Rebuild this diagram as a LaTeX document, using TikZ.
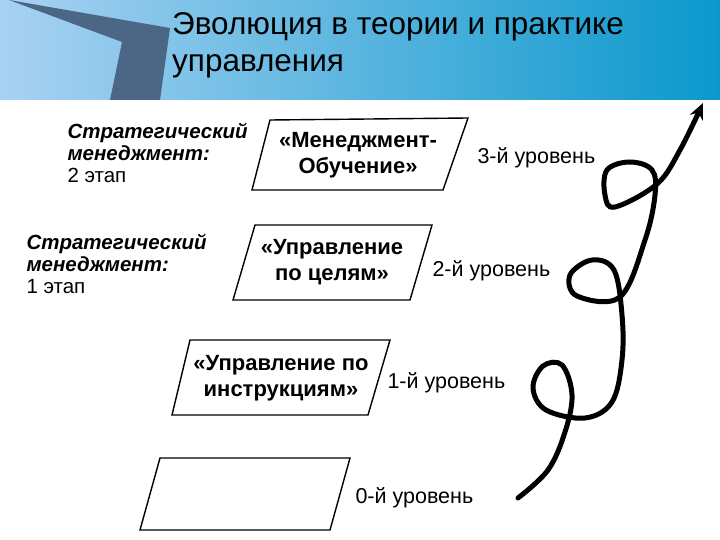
\documentclass[tikz,border=0pt]{standalone}
\usepackage{fontspec}
\setmainfont{Liberation Sans}
\usetikzlibrary{arrows.meta}
\definecolor{bl}{HTML}{A9D2F2}
\definecolor{br}{HTML}{0A98CC}
\definecolor{wedge}{HTML}{4B6785}
\begin{document}
\begin{tikzpicture}[x=1pt,y=-1pt,
  para/.style={draw=black,line width=1.4pt},
  boxtxt/.style={font=\fontsize{22}{26}\selectfont\bfseries,align=center},
  lvl/.style={font=\fontsize{21.5}{26}\selectfont,anchor=west},
  strat/.style={font=\fontsize{20.5}{22}\selectfont,align=left,anchor=north west}]
\useasboundingbox (0,0) rectangle (720,540);
\fill[white] (0,0) rectangle (720,540);
\shade[left color=bl,right color=br] (0,0) rectangle (720,100);
\fill[wedge] (9,0) -- (170,28) -- (160,100) -- (110,100) -- (122,42) -- cycle;
\node[anchor=north west,align=left,font=\fontsize{31.5}{37}\selectfont,inner sep=0pt] (title) at (172,12) {Эволюция в теории и практике\\управления};
% boxes
\draw[para] (270,120) -- (468,118) -- (443,190) -- (252,190) -- cycle;
\node[boxtxt] (b3) at (358,155) {«Менеджмент-\\Обучение»};
\draw[para] (255,225) -- (432,225) -- (410,300) -- (233,300) -- cycle;
\node[boxtxt] (b2) at (332,262) {«Управление\\по целям»};
\draw[para] (190,340) -- (390,340) -- (368,415) -- (172,415) -- cycle;
\node[boxtxt] (b1) at (281,378) {«Управление по\\инструкциям»};
\draw[para] (160,458) -- (350,458) -- (330,530) -- (140,530) -- cycle;
% levels
\node[lvl] (l3) at (474,158) {3-й уровень};
\node[lvl] (l2) at (429,271) {2-й уровень};
\node[lvl] (l1) at (384,383) {1-й уровень};
\node[lvl] (l0) at (352,498) {0-й уровень};
% strat
\node[strat] (s2) at (64,120) {\textbf{\textit{Стратегический}}\\\textbf{\textit{менеджмент:}}\\2 этап};
\node[strat] (s1) at (23,231) {\textbf{\textit{Стратегический}}\\\textbf{\textit{менеджмент:}}\\1 этап};
% spiral
\draw[line width=5pt,line cap=round,-{Stealth[length=16pt,width=14pt]}] plot[smooth,tension=0.6] coordinates {
(518,498) (548,470) (565,432) (572,395) (562,365) (543,366) (533,388) (546,410) (585,418) (612,402)
(622,360) (622,315) (614,270) (592,260) (570,275) (577,296) (620,297) (645,240) (655,195)
(652,170) (630,162) (607,170) (605,195) (615,207) (657,184) (680,150) (703,103)};
\end{tikzpicture}
\end{document}
